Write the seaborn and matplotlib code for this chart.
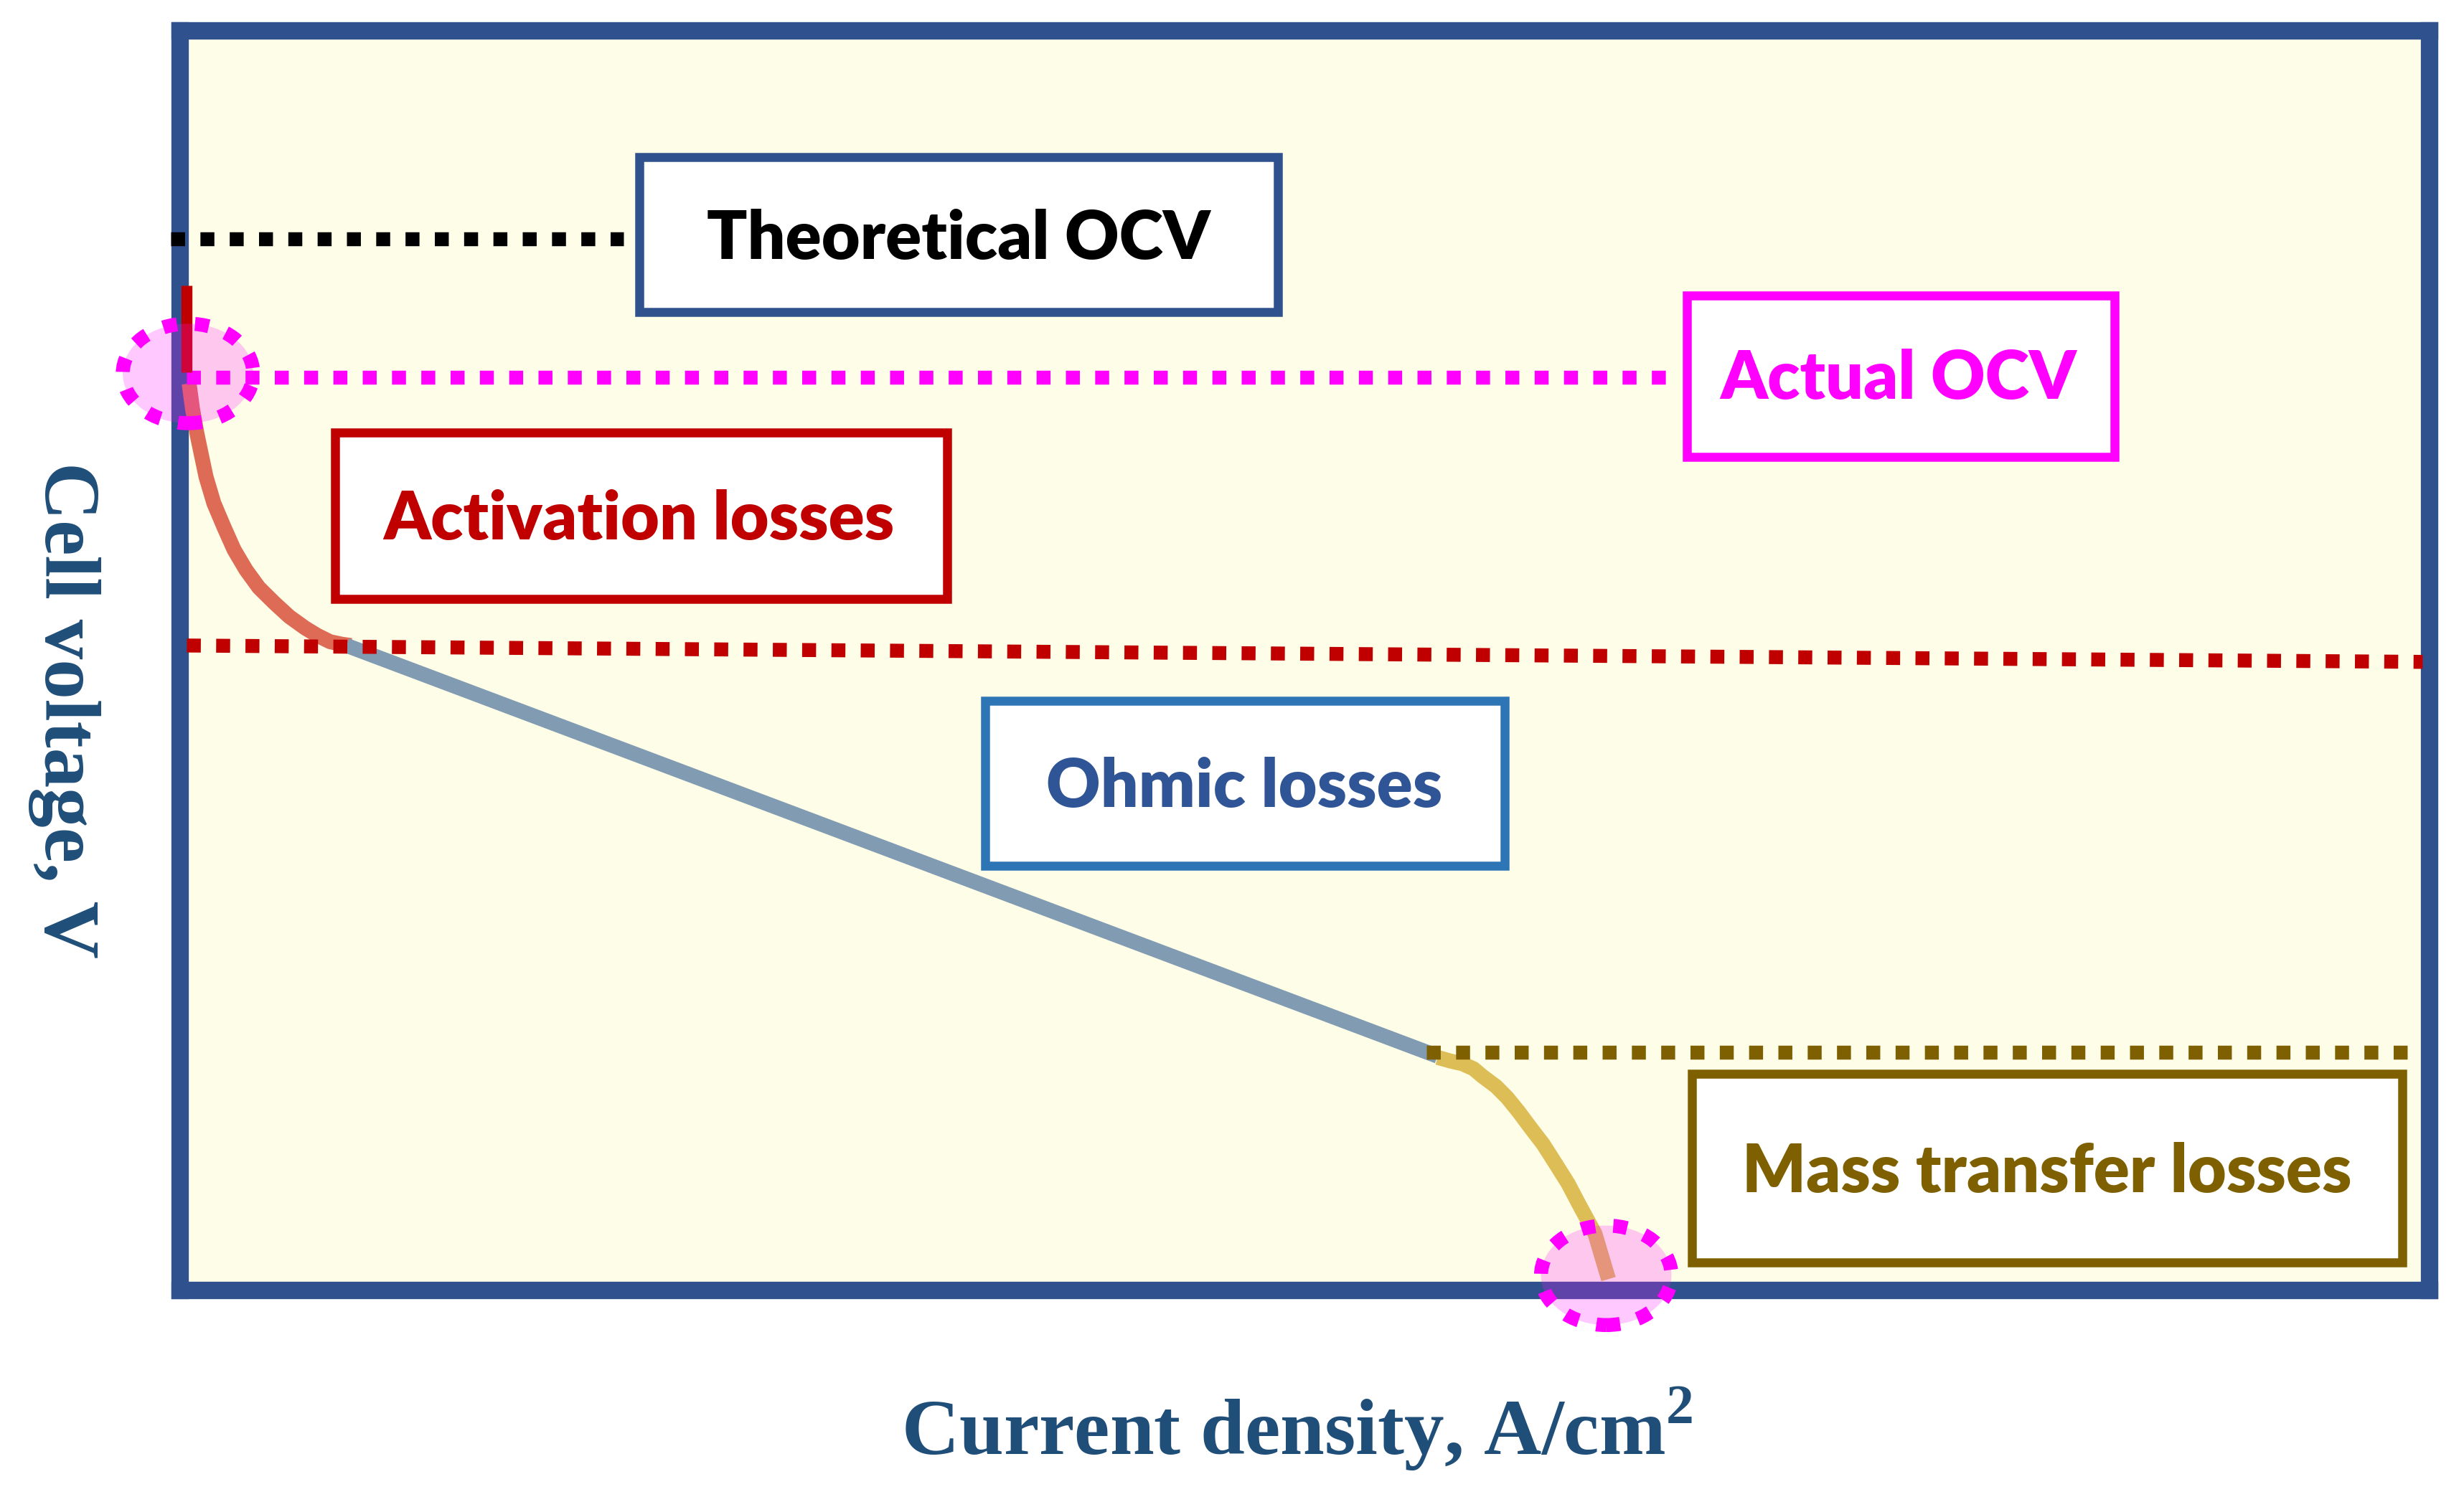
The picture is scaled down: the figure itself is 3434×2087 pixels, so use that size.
import matplotlib
matplotlib.use("Agg")
import matplotlib.pyplot as plt
from matplotlib.patches import Ellipse, Rectangle
import seaborn as sns

# polarization curve (arbitrary units 0-100)
act_j = [0.4, 0.55, 0.75, 1.15, 1.5, 1.95, 2.4, 2.93, 3.5, 4.18, 4.85,
         5.55, 6.1, 6.67, 7.2, 7.6]
act_v = [72.0, 70.0, 68.0, 64.6, 62.5, 60.6, 58.8, 57.2, 55.8, 54.6, 53.5,
         52.6, 52.0, 51.5, 51.3, 51.2]
ohm_j = [7.4, 55.9]
ohm_v = [51.2, 18.6]
mass_j = [55.9, 56.5, 57.0, 57.5, 57.9, 58.5, 59.0, 59.5, 60.0, 60.6, 61.1,
          61.7, 62.2, 62.9, 63.5]
mass_v = [18.5, 18.2, 18.0, 17.6, 17.0, 16.2, 15.3, 14.2, 13.0, 11.6, 10.2,
          8.5, 6.8, 4.5, 0.9]

# reference levels
theory_ocv = 83.5
actual_ocv = 72.5
act_level = [51.2, 49.9]
mass_level = 18.9

labels = ["Theoretical OCV", "Actual OCV", "Activation losses",
          "Ohmic losses", "Mass transfer losses"]

sns.set_theme(style="white")
plt.rcParams["font.family"] = ["Lato", "DejaVu Sans"]
plt.rcParams["mathtext.fontset"] = "custom"
plt.rcParams["mathtext.rm"] = "Liberation Serif:bold"
plt.rcParams["mathtext.bf"] = "Liberation Serif:bold"

fig = plt.figure(figsize=(34.34, 20.87), dpi=100)
ax = fig.add_axes([0.0731, 0.138, 0.9129, 0.8414])
ax.set_facecolor("#FEFDE8")
ax.set_xlim(0, 100)
ax.set_ylim(0, 100)
ax.set_xticks([])
ax.set_yticks([])
for s in ax.spines.values():
    s.set_visible(True)
    s.set_color("#2F528F")
    s.set_linewidth(17.5)

dot = (0, (1.0, 1.1))
dlw = 14

# dotted reference lines
ax.plot([-0.4, 19.7], [theory_ocv, theory_ocv], color="black", lw=dlw,
        linestyle=dot, clip_on=False, zorder=4)
ax.plot([0.3, 66.4], [actual_ocv, actual_ocv], color="#FF00FF", lw=dlw,
        linestyle=dot, zorder=4)
ax.plot([0.3, 99.7], act_level, color="#C00000", lw=dlw, linestyle=dot, zorder=4)
ax.plot([55.4, 99.6], [mass_level, mass_level], color="#7F6000", lw=dlw,
        linestyle=dot, zorder=4)

# curve segments
for xs, ys, c in [(act_j, act_v, "#DD6B55"), (ohm_j, ohm_v, "#809BB2"),
                  (mass_j, mass_v, "#DDBD55")]:
    sns.lineplot(x=xs, y=ys, ax=ax, color=c, lw=15, solid_capstyle="butt",
                 solid_joinstyle="round", zorder=3)

# short red tick at the start of the curve
ax.plot([0.29, 0.29], [72.9, 79.8], color="#C00000", lw=11,
        solid_capstyle="butt", clip_on=False, zorder=5)

# highlighted points
for cx, cy in [(0.35, 72.8), (63.4, 1.2)]:
    ax.add_patch(Ellipse((cx, cy), 5.8, 7.9, facecolor=(1, 0.08, 1, 0.23),
                         edgecolor="#FF00FF", lw=14, linestyle=(0, (1.0, 1.3)),
                         clip_on=False, zorder=10))

# label boxes: (x0, x1, y0, y1, edge, text colour, text x, baseline y)
boxes = [
    (20.4, 48.8, 77.7, 90.0, "#2F528F", "black", 34.6, 81.9),
    (67.0, 86.0, 66.2, 79.0, "#FF00FF", "#FF00FF", 76.4, 70.8),
    (6.9, 34.1, 54.9, 68.1, "#C00000", "#C00000", 20.4, 59.6),
    (35.8, 58.9, 33.7, 46.8, "#2E75B6", "#2F5597", 47.3, 38.4),
    (67.2, 98.8, 2.2, 17.2, "#7F6000", "#7F6000", 83.0, 7.8),
]
for (x0, x1, y0, y1, ec, tc, tx, ty), lab in zip(boxes, labels):
    ax.add_patch(Rectangle((x0, y0), x1 - x0, y1 - y0, facecolor="white",
                           edgecolor=ec, lw=9, zorder=6))
    ax.text(tx, ty, lab, ha="center", va="baseline", color=tc,
            fontsize=67, fontweight="heavy", zorder=7)

serif = ["Liberation Serif", "DejaVu Serif"]
fig.text(0.026, 0.5256, "Cell voltage, V", rotation=270, ha="center",
         va="center", fontsize=80, fontweight="bold", color="#1F4E79",
         family=serif)
fig.text(0.5265, 0.0455, r"Current density, A/cm$^{2}$", ha="center",
         va="center", fontsize=80, fontweight="bold", color="#1F4E79",
         family=serif)

fig.savefig("out.png", dpi=100, facecolor="white")
